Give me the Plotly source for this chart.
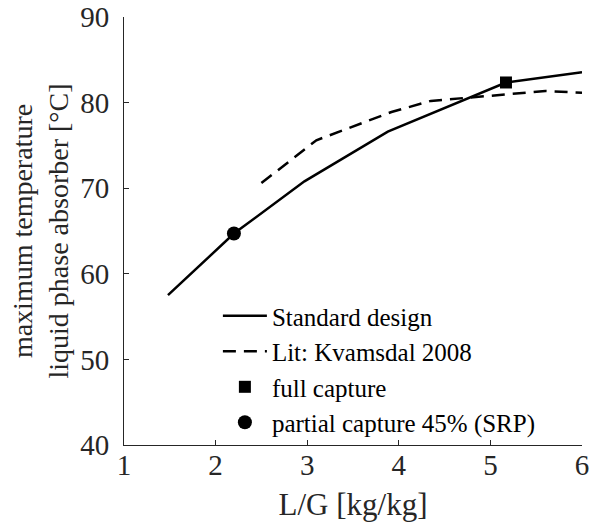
import plotly.graph_objects as go

# Data
std_x = [1.48, 2.2, 2.97, 3.88, 5.17, 6.0]
std_y = [57.5, 64.7, 70.8, 76.6, 82.35, 83.55]
lit_x = [2.5, 3.1, 3.92, 4.35, 5.0, 5.6, 6.0]
lit_y = [70.6, 75.6, 78.9, 80.2, 80.8, 81.35, 81.15]
full_x = [5.17]
full_y = [82.35]
partial_x = [2.2]
partial_y = [64.7]
x_ticks = [1, 2, 3, 4, 5, 6]
y_ticks = [40, 50, 60, 70, 80, 90]

FONT = "Liberation Serif, Times New Roman, serif"

fig = go.Figure()
fig.add_trace(go.Scatter(x=std_x, y=std_y, mode="lines", name="Standard design",
                         line=dict(color="black", width=2.5)))
fig.add_trace(go.Scatter(x=lit_x, y=lit_y, mode="lines", name="Lit: Kvamsdal 2008",
                         line=dict(color="black", width=2.5, dash="13px,8px")))
fig.add_trace(go.Scatter(x=full_x, y=full_y, mode="markers", name="full capture",
                         marker=dict(symbol="square", size=12, color="black")))
fig.add_trace(go.Scatter(x=partial_x, y=partial_y, mode="markers",
                         name="partial capture 45% (SRP)",
                         marker=dict(symbol="circle", size=14, color="black")))

fig.update_layout(
    width=590, height=528,
    margin=dict(l=124, r=8, t=17, b=83),
    paper_bgcolor="white", plot_bgcolor="white",
    font=dict(family=FONT, color="#262626", size=28),
    showlegend=True,
    legend=dict(x=0.205, y=0.355, xanchor="left", yanchor="top",
                bgcolor="rgba(0,0,0,0)", borderwidth=0,
                font=dict(family=FONT, size=25, color="black"),
                tracegroupgap=0, itemwidth=44),
)
fig.update_xaxes(range=[1, 6], tickvals=x_ticks, ticks="inside", ticklen=5,
                 tickcolor="#262626", showline=True, linecolor="#262626",
                 linewidth=1, showgrid=False, zeroline=False, mirror=False,
                 automargin=False,
                 tickfont=dict(size=29), ticklabelstandoff=-6,
                 title=dict(text="L/G [kg/kg]", font=dict(size=31), standoff=13))
fig.update_yaxes(range=[40, 90], tickvals=y_ticks, ticks="inside", ticklen=5,
                 tickcolor="#262626", showline=True, linecolor="#262626",
                 linewidth=1, showgrid=False, zeroline=False, mirror=False,
                 automargin=False,
                 tickfont=dict(size=29), ticklabelstandoff=8,
                 title=dict(text="maximum temperature<br>liquid phase absorber [°C]",
                            font=dict(size=28), standoff=3))

fig.write_html("out.html",
               config={"displayModeBar": False},
               post_script="document.body.style.margin='0';document.body.style.overflow='hidden';")
